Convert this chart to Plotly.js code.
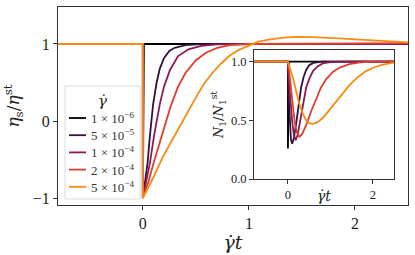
<!DOCTYPE html>
<html><head><meta charset="utf-8">
<script src="https://cdn.plot.ly/plotly-3.0.1.min.js"></script>
<style>html,body{margin:0;padding:0;background:#fff}</style>
</head><body><div id="c" style="width:415px;height:255px"></div>
<script>
// Legend labels (shear rates) and colours
const rateLabels = ['1 × 10<sup>−6</sup>', '5 × 10<sup>−5</sup>', '1 × 10<sup>−4</sup>', '2 × 10<sup>−4</sup>', '5 × 10<sup>−4</sup>'];
const rateColors = ['#000000', '#33123c', '#8c1c56', '#df3f2f', '#f98c10'];

// Main panel: eta_s / eta_st vs gamma_dot * t
const mainT1 = [-0.8, 0, 0, 0.003, 0.01, 2.5];
const mainV1 = [1, 1, -1, 0.5, 1, 1];
const mainT2 = [-0.8, 0, 0, 0.02, 0.044, 0.066, 0.097, 0.13, 0.16, 0.2, 0.25, 0.3, 0.4, 0.55, 0.8, 2.5];
const mainV2 = [1, 1, -1, -0.8, -0.55, -0.2, 0.22, 0.5, 0.68, 0.82, 0.91, 0.95, 0.985, 0.997, 1, 1];
const mainT3 = [-0.8, 0, 0, 0.03, 0.066, 0.107, 0.16, 0.2, 0.255, 0.33, 0.43, 0.55, 0.7, 1.0, 2.5];
const mainV3 = [1, 1, -1, -0.8, -0.55, -0.18, 0.22, 0.45, 0.66, 0.84, 0.93, 0.975, 0.995, 1, 1];
const mainT4 = [-0.8, 0, 0, 0.05, 0.1, 0.18, 0.26, 0.33, 0.4, 0.5, 0.6, 0.7, 0.82, 1.0, 1.5, 2.5];
const mainV4 = [1, 1, -1, -0.8, -0.55, -0.17, 0.18, 0.44, 0.62, 0.79, 0.89, 0.95, 0.985, 1.0, 1.005, 1.01];
const mainT5 = [-0.8, 0, 0, 0.05, 0.1, 0.19, 0.27, 0.35, 0.43, 0.51, 0.58, 0.66, 0.74, 0.82, 0.9, 0.98, 1.09, 1.2, 1.35, 1.46, 1.6, 1.8, 2.0, 2.25, 2.5];
const mainV5 = [1, 1, -1, -0.87, -0.73, -0.46, -0.26, -0.06, 0.14, 0.33, 0.49, 0.63, 0.75, 0.85, 0.92, 0.97, 1.03, 1.06, 1.085, 1.093, 1.09, 1.075, 1.06, 1.04, 1.02];

// Inset: N1 / N1_st vs gamma_dot * t
const insT1 = [-0.8, 0, 0, 0.005, 0.02, 2.5];
const insV1 = [1, 1, 0.26, 0.5, 1, 1];
const insT2 = [-0.8, 0, 0.01, 0.04, 0.07, 0.1, 0.14, 0.2, 0.25, 0.31, 0.37, 0.43, 0.5, 0.6, 0.8, 2.5];
const insV2 = [1, 1, 0.75, 0.5, 0.34, 0.3, 0.35, 0.49, 0.63, 0.78, 0.87, 0.93, 0.97, 0.99, 1, 1];
const insT3 = [-0.8, 0, 0.02, 0.05, 0.1, 0.14, 0.18, 0.23, 0.31, 0.37, 0.43, 0.51, 0.59, 0.7, 0.82, 1.0, 1.3, 2.5];
const insV3 = [1, 1, 0.85, 0.7, 0.49, 0.38, 0.33, 0.38, 0.55, 0.67, 0.78, 0.86, 0.92, 0.96, 0.985, 0.997, 1, 1];
const insT4 = [-0.8, 0, 0.04, 0.08, 0.12, 0.16, 0.21, 0.27, 0.33, 0.43, 0.55, 0.67, 0.78, 0.9, 1.05, 1.22, 1.45, 1.7, 2.0, 2.5];
const insV4 = [1, 1, 0.88, 0.75, 0.6, 0.48, 0.4, 0.36, 0.38, 0.46, 0.58, 0.69, 0.78, 0.85, 0.91, 0.95, 0.98, 0.995, 1, 1];
const insT5 = [-0.8, 0, 0.06, 0.12, 0.2, 0.27, 0.35, 0.43, 0.51, 0.59, 0.7, 0.82, 0.98, 1.14, 1.3, 1.45, 1.65, 1.84, 2.05, 2.24, 2.5];
const insV5 = [1, 1, 0.93, 0.86, 0.74, 0.64, 0.56, 0.5, 0.475, 0.47, 0.485, 0.52, 0.59, 0.66, 0.73, 0.8, 0.87, 0.92, 0.955, 0.975, 0.992];

const mainX = [mainT1, mainT2, mainT3, mainT4, mainT5];
const mainY = [mainV1, mainV2, mainV3, mainV4, mainV5];
const insX = [insT1, insT2, insT3, insT4, insT5];
const insY = [insV1, insV2, insV3, insV4, insV5];

const traces = [];
for (let i = 0; i < 5; i++) {
  traces.push({x: mainX[i], y: mainY[i], mode: 'lines', name: rateLabels[i], showlegend: false,
    line: {color: rateColors[i], width: 1.8}, xaxis: 'x', yaxis: 'y'});
}
for (let i = 0; i < 5; i++) {
  traces.push({x: insX[i], y: insY[i], mode: 'lines', showlegend: false,
    line: {color: rateColors[i], width: 1.8}, xaxis: 'x2', yaxis: 'y2'});
}

const F = '"DejaVu Serif", "Liberation Serif", serif';
const FN = '"Liberation Serif", "DejaVu Serif", serif';
const axCommon = {showgrid: false, zeroline: false, showline: true, mirror: true,
  linecolor: '#333', linewidth: 1, ticks: 'outside', ticklen: 4, tickcolor: '#333'};

// pixel helpers for the hand-drawn legend (plot area: x 58..408, y 7..205)
const PL = 58, PW = 350, PB = 205, PH = 198;
const px = v => (v - PL) / PW;
const py = v => (PB - v) / PH;

const shapes = [];
const annotations = [];
// legend box
shapes.push({type: 'rect', xref: 'paper', yref: 'paper', x0: px(65), x1: px(140), y0: py(199), y1: py(86),
  line: {color: '#dcdcdc', width: 1}, fillcolor: 'rgba(255,255,255,0.85)', layer: 'above'});
annotations.push({xref: 'paper', yref: 'paper', x: px(102.5), y: py(101), text: '<i>γ̇</i>',
  showarrow: false, font: {family: F, size: 15, color: '#222'}, xanchor: 'center', yanchor: 'middle'});
for (let i = 0; i < 5; i++) {
  const yy = 118 + i * 17.2;
  shapes.push({type: 'line', xref: 'paper', yref: 'paper', x0: px(69), x1: px(86), y0: py(yy), y1: py(yy),
    line: {color: rateColors[i], width: 1.8}, layer: 'above'});
  annotations.push({xref: 'paper', yref: 'paper', x: px(88.5), y: py(yy), text: rateLabels[i],
    showarrow: false, xanchor: 'left', yanchor: 'middle', font: {family: FN, size: 13, color: '#333'}});
}
// inset x-axis title, placed beside the tick labels as in the reference
annotations.push({xref: 'paper', yref: 'paper', x: px(324), y: py(196), text: '<i>γ̇t</i>',
  showarrow: false, xanchor: 'center', yanchor: 'middle', font: {family: F, size: 14, color: '#222'}});

const layout = {
  width: 415, height: 255,
  margin: {l: 58, r: 7, t: 7, b: 50},
  paper_bgcolor: '#fff', plot_bgcolor: '#fff',
  font: {family: F, color: '#222'},
  showlegend: false,
  shapes: shapes,
  annotations: annotations,
  xaxis: Object.assign({}, axCommon, {domain: [0, 1], range: [-0.8, 2.5], tickvals: [0, 1, 2],
    tickfont: {family: FN, size: 16}, anchor: 'y',
    title: {text: '<i>γ̇t</i>', font: {family: F, size: 19}, standoff: 4}}),
  yaxis: Object.assign({}, axCommon, {domain: [0, 1], range: [-1.09, 1.48], tickvals: [-1, 0, 1],
    tickfont: {family: FN, size: 16}, anchor: 'x',
    title: {text: '<i>η</i><sub>s</sub>/<i>η</i><sup>st</sup>', font: {family: F, size: 17}, standoff: 8}}),
  xaxis2: Object.assign({}, axCommon, {domain: [0.56, 0.96], range: [-0.8, 2.5], tickvals: [0, 2],
    tickfont: {family: FN, size: 12.5}, anchor: 'y2'}),
  yaxis2: Object.assign({}, axCommon, {domain: [0.131, 0.783], range: [0, 1.1], tickvals: [0, 0.5, 1],
    tickformat: '.1f', tickfont: {family: FN, size: 12.5}, anchor: 'x2',
    title: {text: '<i>N</i><sub>1</sub>/<i>N</i><sub>1</sub><sup>st</sup>', font: {family: F, size: 13}, standoff: 4}})
};

Plotly.newPlot('c', traces, layout, {staticPlot: true, displayModeBar: false});
</script></body></html>
